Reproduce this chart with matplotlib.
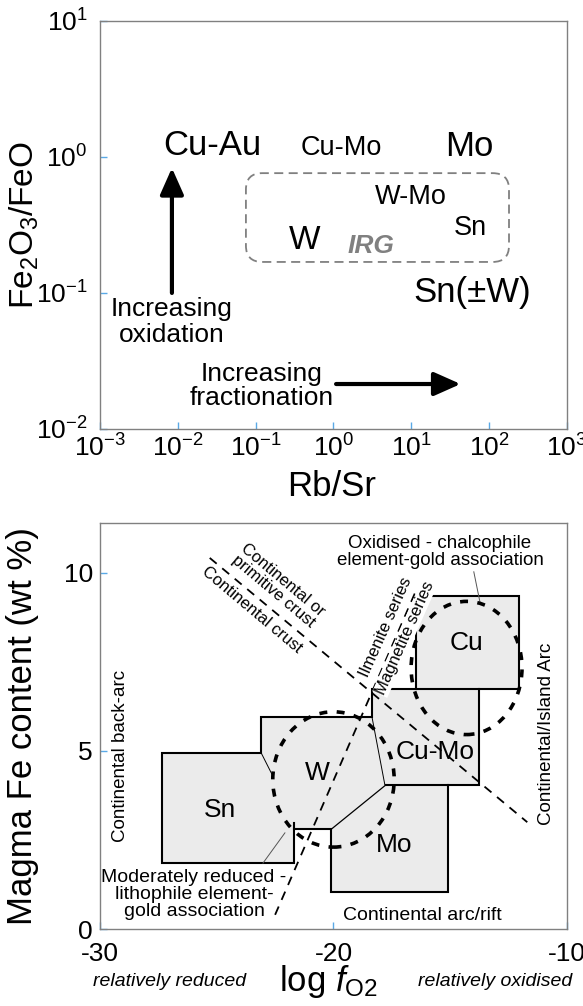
import math
import matplotlib
matplotlib.use("Agg")
import matplotlib.pyplot as plt
import matplotlib.ticker as mticker
from matplotlib.patches import Ellipse, Polygon, FancyBboxPatch

plt.rcParams['font.family'] = ['Liberation Sans', 'DejaVu Sans']
plt.rcParams['mathtext.fontset'] = 'custom'
plt.rcParams['mathtext.rm'] = 'Liberation Sans'
plt.rcParams['mathtext.it'] = 'Liberation Sans:italic'
plt.rcParams['mathtext.bf'] = 'Liberation Sans:bold'
plt.rcParams['axes.unicode_minus'] = False

# ---- top panel: Rb/Sr vs Fe2O3/FeO ----
deposit_names = ['Cu-Au', 'Cu-Mo', 'Mo', 'W-Mo', 'Sn', 'W', 'Sn(±W)']
deposit_rbsr = [0.0275, 1.25, 55, 9.9, 58, 0.42, 60]
deposit_fe_ratio = [1.22, 1.16, 1.19, 0.51, 0.30, 0.245, 0.10]
deposit_fontsize = [25, 19.5, 25, 19.5, 19.5, 24, 25]

irg_label = 'IRG'
irg_pos = (3.0, 0.222)
irg_rbsr = [0.075, 180]
irg_fe_ratio = [0.169, 0.76]

oxid_arrow_rbsr = 0.0084
oxid_arrow_fe = [0.10, 0.83]
frac_arrow_rbsr = [1.08, 43]
frac_arrow_fe = 0.0214

# ---- bottom panel: log fO2 vs magma Fe ----
# outline of the shaded field (Sn + W + Cu-Mo + Mo + Cu)
field_fo2 = [-27.35, -27.35, -23.1, -23.1, -18.35, -18.35, -16.45, -16.45, -12.05,
             -12.05, -13.75, -13.75, -15.1, -15.1, -20.1, -20.1, -21.7, -21.7]
field_fe = [1.85, 4.95, 4.95, 5.95, 5.95, 6.75, 6.75, 9.35, 9.35,
            6.75, 6.75, 4.05, 4.05, 1.05, 1.05, 2.8, 2.8, 1.85]

# internal boundaries: (fo2 pair, fe pair, line width)
inner_bounds = [
    ([-16.45, -13.75], [6.75, 6.75], 1.5),
    ([-17.75, -15.1], [4.05, 4.05], 1.5),
    ([-20.1, -17.75], [2.8, 4.05], 0.9),
    ([-18.35, -17.8], [5.95, 4.05], 0.7),
    ([-23.1, -22.6], [4.95, 4.3], 0.7),
    ([-21.7, -21.7], [2.8, 2.98], 1.5),
]

# dashed association ellipses: centre, width, height
ellipse_centres = [(-20.0, 4.2), (-14.3, 7.33)]
ellipse_widths = [5.2, 4.75]
ellipse_heights = [3.8, 3.74]

crust_line_fo2 = [-25.3, -11.7]
crust_line_fe = [10.42, 3.0]
series_line_fo2 = [-22.5, -16.4]
series_line_fe = [0.4, 9.6]

region_names = ['Cu', 'Cu-Mo', 'W', 'Sn', 'Mo']
region_fo2 = [-14.3, -15.65, -20.7, -24.85, -17.4]
region_fe = [8.03, 4.97, 4.38, 3.34, 2.36]

fig = plt.figure(figsize=(5.83, 10.06), dpi=100)

# ================= top panel =================
ax1 = fig.add_axes([0.1715, 0.5736, 0.801, 0.4056])
ax1.set_xscale('log')
ax1.set_yscale('log')
ax1.set_xlim(1e-3, 1e3)
ax1.set_ylim(1e-2, 1e1)
ax1.xaxis.set_major_locator(mticker.LogLocator(base=10, numticks=10))
ax1.yaxis.set_major_locator(mticker.LogLocator(base=10, numticks=10))
ax1.xaxis.set_minor_locator(mticker.NullLocator())
ax1.yaxis.set_minor_locator(mticker.NullLocator())

for name, x, y, fs in zip(deposit_names, deposit_rbsr, deposit_fe_ratio, deposit_fontsize):
    ax1.text(x, y, name, fontsize=fs, ha='center', va='center')

ax1.text(irg_pos[0], irg_pos[1], irg_label, fontsize=19, ha='center', va='center',
         color='#808080', fontweight='bold', style='italic')

# rounded dashed box around the IRG group, drawn in axes fraction
fx0 = (math.log10(irg_rbsr[0]) + 3) / 6
fx1 = (math.log10(irg_rbsr[1]) + 3) / 6
fy0 = (math.log10(irg_fe_ratio[0]) + 2) / 3
fy1 = (math.log10(irg_fe_ratio[1]) + 2) / 3
box = FancyBboxPatch((fx0, fy0), fx1 - fx0, fy1 - fy0,
                     boxstyle='round,pad=0,rounding_size=0.035',
                     mutation_aspect=467 / 408, transform=ax1.transAxes,
                     fill=False, edgecolor='#808080', linestyle=(0, (5, 3)), linewidth=1.3)
ax1.add_patch(box)

arrow_style = dict(arrowstyle='-|>,head_width=0.4,head_length=0.9', lw=3, color='k',
                   mutation_scale=18, shrinkA=0, shrinkB=0)
ax1.annotate('', xy=(oxid_arrow_rbsr, oxid_arrow_fe[1]),
             xytext=(oxid_arrow_rbsr, oxid_arrow_fe[0]), arrowprops=arrow_style)
ax1.annotate('', xy=(frac_arrow_rbsr[1], frac_arrow_fe),
             xytext=(frac_arrow_rbsr[0], frac_arrow_fe), arrowprops=arrow_style)
ax1.text(oxid_arrow_rbsr, 0.061, 'Increasing\noxidation', fontsize=19,
         ha='center', va='center', linespacing=1.1)
ax1.text(0.12, 0.0207, 'Increasing\nfractionation', fontsize=19,
         ha='center', va='center', linespacing=1.0)

ax1.set_xlabel('Rb/Sr', fontsize=25)
ax1.xaxis.set_label_coords(0.495, -0.142)
ax1.xaxis.label.set_va('center')
ax1.set_ylabel('Fe$_2$O$_3$/FeO', fontsize=24)
ax1.yaxis.set_label_coords(-0.163, 0.5)
ax1.yaxis.label.set_va('center')

# ================= bottom panel =================
ax2 = fig.add_axes([0.1715, 0.0765, 0.801, 0.4036])
ax2.set_xlim(-30, -10)
ax2.set_ylim(0, 11.4)
ax2.set_xticks([-30, -20, -10])
ax2.set_yticks([0, 5, 10])

ax2.add_patch(Polygon(list(zip(field_fo2, field_fe)), closed=True,
                      facecolor='#ebebeb', edgecolor='k', linewidth=1.5, zorder=1))
for xs, ys, lw in inner_bounds:
    ax2.plot(xs, ys, color='k', linewidth=lw, zorder=2)

for c, w, h in zip(ellipse_centres, ellipse_widths, ellipse_heights):
    ax2.add_patch(Ellipse(c, w, h, fill=False, edgecolor='k', linewidth=2.6,
                          linestyle=(0, (2.2, 2.6)), zorder=3))

ax2.plot(crust_line_fo2, crust_line_fe, color='k', linewidth=1.3,
         linestyle=(0, (5, 4)), zorder=2)
ax2.plot(series_line_fo2, series_line_fe, color='k', linewidth=1.3,
         linestyle=(0, (5, 4)), zorder=2)

for name, x, y in zip(region_names, region_fo2, region_fe):
    ax2.text(x, y, name, fontsize=19, ha='center', va='center', zorder=4)

white = dict(facecolor='white', edgecolor='none', pad=0.5)
ax2.text(-22.38, 9.63, 'Continental or\nprimitive crust', fontsize=12, rotation=-40,
         ha='center', va='center', linespacing=1.0, zorder=4)
ax2.text(-23.49, 8.96, 'Continental crust', fontsize=12, rotation=-40,
         ha='center', va='center', zorder=4)
ax2.text(-17.75, 8.48, 'Ilmenite series', fontsize=12, rotation=66,
         ha='center', va='center', zorder=4, bbox=white)
ax2.text(-16.94, 8.17, 'Magnetite series', fontsize=12, rotation=66,
         ha='center', va='center', zorder=4, bbox=white)

ax2.text(-15.44, 10.59, 'Oxidised - chalcophile\nelement-gold association', fontsize=13.5,
         ha='center', va='center', linespacing=1.05, zorder=4)
ax2.plot([-13.99, -13.73], [10.03, 9.19], color='#555555', linewidth=0.7)
ax2.text(-25.97, 0.97, 'Moderately reduced -\nlithophile element-\ngold association',
         fontsize=14, ha='center', va='center', linespacing=1.0, zorder=4)
ax2.plot([-23.02, -22.08], [1.85, 2.70], color='#555555', linewidth=0.7)

ax2.text(-29.14, 4.86, 'Continental back-arc', fontsize=13.5, rotation=90,
         ha='center', va='center')
ax2.text(-10.86, 5.48, 'Continental/Island Arc', fontsize=13.5, rotation=90,
         ha='center', va='center')
ax2.text(-16.21, 0.39, 'Continental arc/rift', fontsize=14, ha='center', va='center')

ax2.set_xlabel('log $f_{\\mathrm{O2}}$', fontsize=25)
ax2.xaxis.set_label_coords(0.49, -0.13)
ax2.xaxis.label.set_va('center')
ax2.set_ylabel('Magma Fe content (wt %)', fontsize=25)
ax2.yaxis.set_label_coords(-0.165, 0.5)
ax2.yaxis.label.set_va('center')
ax2.text(0.15, -0.13, 'relatively reduced', transform=ax2.transAxes, fontsize=14,
         style='italic', ha='center', va='center')
ax2.text(0.846, -0.13, 'relatively oxidised', transform=ax2.transAxes, fontsize=14,
         style='italic', ha='center', va='center')

for ax in (ax1, ax2):
    for sp in ax.spines.values():
        sp.set_color('#808080')
        sp.set_linewidth(1.0)
    ax.tick_params(which='major', direction='in', length=5, width=1,
                   color='#5aa9e6', labelsize=19)
ax1.tick_params(axis='x', pad=4)
ax1.tick_params(axis='y', pad=9)
ax2.tick_params(axis='x', pad=9)
ax2.tick_params(axis='y', pad=5)

fig.savefig('out.png', dpi=100)
